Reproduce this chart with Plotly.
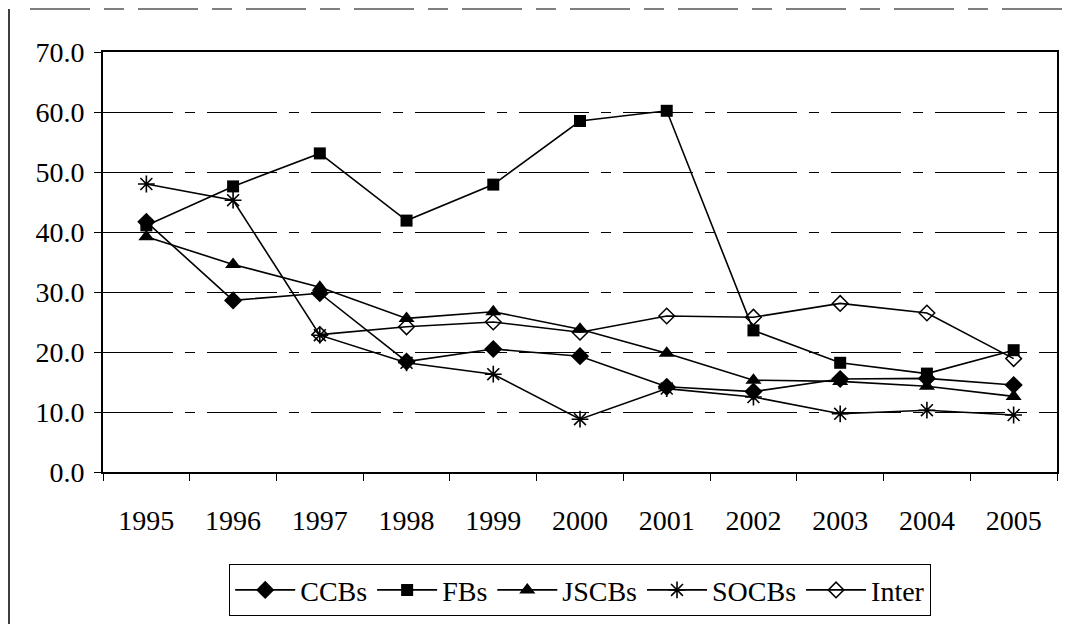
import plotly.graph_objects as go

years = ["1995", "1996", "1997", "1998", "1999", "2000", "2001", "2002", "2003", "2004", "2005"]
ccbs = [41.7, 28.6, 29.8, 18.4, 20.5, 19.3, 14.2, 13.4, 15.5, 15.6, 14.5]
fbs = [41.1, 47.6, 53.1, 41.9, 47.9, 58.5, 60.2, 23.6, 18.2, 16.4, 20.3]
jscbs = [39.2, 34.6, 30.8, 25.6, 26.7, 23.8, 19.8, 15.3, 15.1, 14.3, 12.6]
socbs = [48.0, 45.3, 22.8, 18.2, 16.3, 8.8, 13.9, 12.5, 9.7, 10.3, 9.5]
inter = [None, None, 22.9, 24.2, 25.0, 23.3, 26.0, 25.8, 28.1, 26.5, 18.9]
y_ticks = [0, 10, 20, 30, 40, 50, 60, 70]

series = [
    ("CCBs", ccbs, dict(symbol="diamond", size=14, color="black")),
    ("FBs", fbs, dict(symbol="square", size=12, color="black")),
    ("JSCBs", jscbs, dict(symbol="triangle-up", size=14, color="black")),
    ("SOCBs", socbs, dict(symbol="asterisk-open", size=14, color="black", line=dict(color="black", width=1.6))),
    ("Inter", inter, dict(symbol="diamond-open", size=12, color="black", line=dict(color="black", width=1.5))),
]

fig = go.Figure()
for name, vals, mk in series:
    fig.add_trace(go.Scatter(
        x=years, y=vals, name=name, mode="lines+markers",
        line=dict(color="black", width=1.6), marker=mk,
    ))

# page offset of the plot div (browser body margin)
O = 8
W, H = 1071 - O, 624 - O
L, T = 103 - O, 52 - O
R = W - (1057 - O)
B = H - (472 - O)
pw, ph = W - L - R, H - T - B

def px(x):
    return (x - O - L) / pw

def py(y):
    return (H - B - (y - O)) / ph

serif = "Liberation Serif, Times New Roman, serif"

# scanned outer frame lines
fig.add_shape(type="line", xref="paper", yref="paper", x0=px(9), x1=px(9), y0=py(O + 1), y1=py(624),
              line=dict(color="black", width=1.5))
fig.add_shape(type="line", xref="paper", yref="paper", x0=px(30), x1=px(1071), y0=py(O + 1), y1=py(O + 1),
              line=dict(color="black", width=1.2, dash="60px,14px,20px,14px"))

fig.update_layout(
    width=W, height=H,
    margin=dict(l=L, r=R, t=T, b=B, autoexpand=False),
    paper_bgcolor="white", plot_bgcolor="white",
    font=dict(family=serif, size=27, color="black"),
    showlegend=True,
    legend=dict(
        orientation="h", x=px(580), xanchor="center", y=py(564), yanchor="top",
        bordercolor="black", borderwidth=1.2,
        font=dict(family=serif, size=28, color="black"),
        itemwidth=60, tracegroupgap=0,
    ),
    xaxis=dict(
        type="category", range=[-0.5, 10.5], showgrid=False, showline=True, linecolor="black", linewidth=2,
        mirror=True, ticks="outside", tickson="boundaries", ticklen=7, tickcolor="black",
        ticklabelstandoff=22, zeroline=False,
        tickfont=dict(family=serif, size=28, color="black"),
    ),
    yaxis=dict(
        range=[0, 70], tickvals=y_ticks, ticktext=[f"{v:.1f}" for v in y_ticks],
        showgrid=True, gridcolor="black", gridwidth=1, griddash="70px,12px,10px,12px",
        showline=True, linecolor="black", linewidth=2, mirror=True,
        ticks="outside", ticklen=7, tickcolor="black", ticklabelstandoff=4, zeroline=False,
        tickfont=dict(family=serif, size=28, color="black"),
    ),
)

fig.write_html("out.html")
